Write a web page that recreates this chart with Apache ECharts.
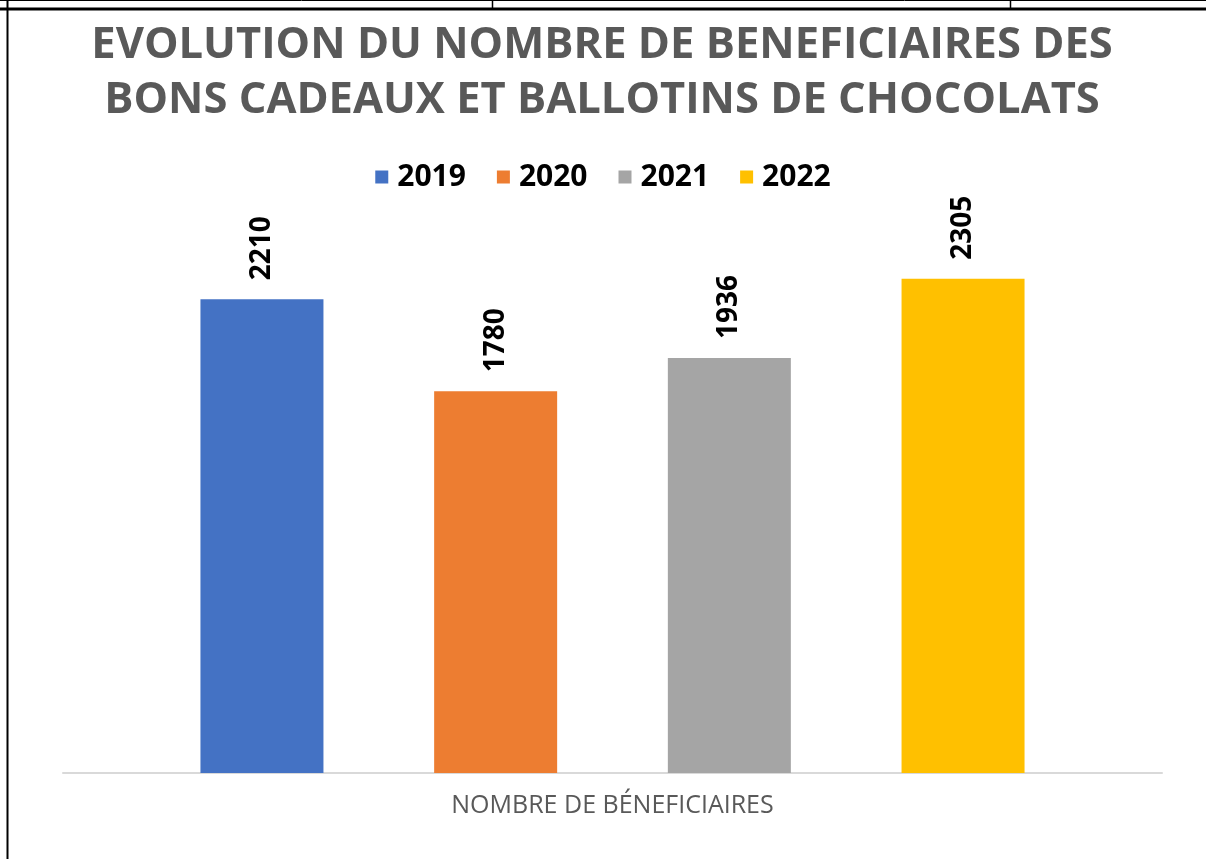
<!DOCTYPE html>
<html>
<head>
<meta charset="utf-8">
<script src="https://cdn.jsdelivr.net/npm/echarts@6/dist/echarts.min.js"></script>
<style>
  html, body { margin: 0; padding: 0; background: #fff; }
  #chart { width: 1206px; height: 859px; }
</style>
</head>
<body>
<div id="chart"></div>
<script>
const categories = ['NOMBRE DE BÉNEFICIAIRES']
const years = ['2019', '2020', '2021', '2022']
const values2019 = [2210]
const values2020 = [1780]
const values2021 = [1936]
const values2022 = [2305]

const colors = ['#4472C4', '#ED7D31', '#A5A5A5', '#FFC000']
const seriesValues = [values2019, values2020, values2021, values2022]

const chart = echarts.init(document.getElementById('chart'))

const labelStyle = {
  show: true,
  position: 'top',
  rotate: 90,
  align: 'left',
  verticalAlign: 'middle',
  distance: 19,
  color: '#000',
  fontFamily: 'Open Sans',
  fontWeight: 'bold',
  fontSize: 28
}

chart.setOption({
  animation: false,
  color: colors,
  title: {
    text: 'EVOLUTION DU NOMBRE DE BENEFICIAIRES DES\nBONS CADEAUX ET BALLOTINS DE CHOCOLATS',
    left: 597,
    top: 13,
    textAlign: 'center',
    textStyle: {
      color: '#595959',
      fontFamily: 'Open Sans',
      fontWeight: 'bold',
      fontSize: 43.5,
      lineHeight: 55
    }
  },
  legend: {
    data: years,
    left: 'center',
    top: 157,
    itemWidth: 13,
    itemHeight: 13,
    itemGap: 31,
    icon: 'rect',
    textStyle: {
      color: '#000',
      fontFamily: 'Open Sans',
      fontWeight: 'bold',
      fontSize: 30,
      padding: [0, 0, 0, 4]
    }
  },
  grid: {
    left: 63,
    right: 44,
    top: 237,
    bottom: 86
  },
  xAxis: {
    type: 'category',
    data: categories,
    axisTick: { show: false },
    axisLine: { lineStyle: { color: '#D9D9D9', width: 2 } },
    axisLabel: {
      margin: 20,
      color: '#595959',
      fontFamily: 'Open Sans',
      fontSize: 25
    }
  },
  yAxis: {
    type: 'value',
    min: 0,
    max: 2500,
    show: false,
    splitLine: { show: false }
  },
  series: years.map((y, i) => ({
    name: y,
    type: 'bar',
    data: seriesValues[i],
    barWidth: 123,
    barGap: '90%',
    label: labelStyle
  })),
  graphic: [
    { type: 'line', shape: { x1: 0, y1: 0.5, x2: 1206, y2: 0.5 }, style: { stroke: '#000', lineWidth: 1 } },
    { type: 'line', shape: { x1: 0, y1: 9, x2: 1206, y2: 9 }, style: { stroke: '#000', lineWidth: 3 } },
    { type: 'line', shape: { x1: 7.5, y1: 0, x2: 7.5, y2: 859 }, style: { stroke: '#000', lineWidth: 2 } },
    { type: 'line', shape: { x1: 492.5, y1: 0, x2: 492.5, y2: 9 }, style: { stroke: '#000', lineWidth: 1.5 } },
    { type: 'line', shape: { x1: 1010.5, y1: 0, x2: 1010.5, y2: 9 }, style: { stroke: '#000', lineWidth: 1.5 } }
  ]
})
</script>
</body>
</html>
